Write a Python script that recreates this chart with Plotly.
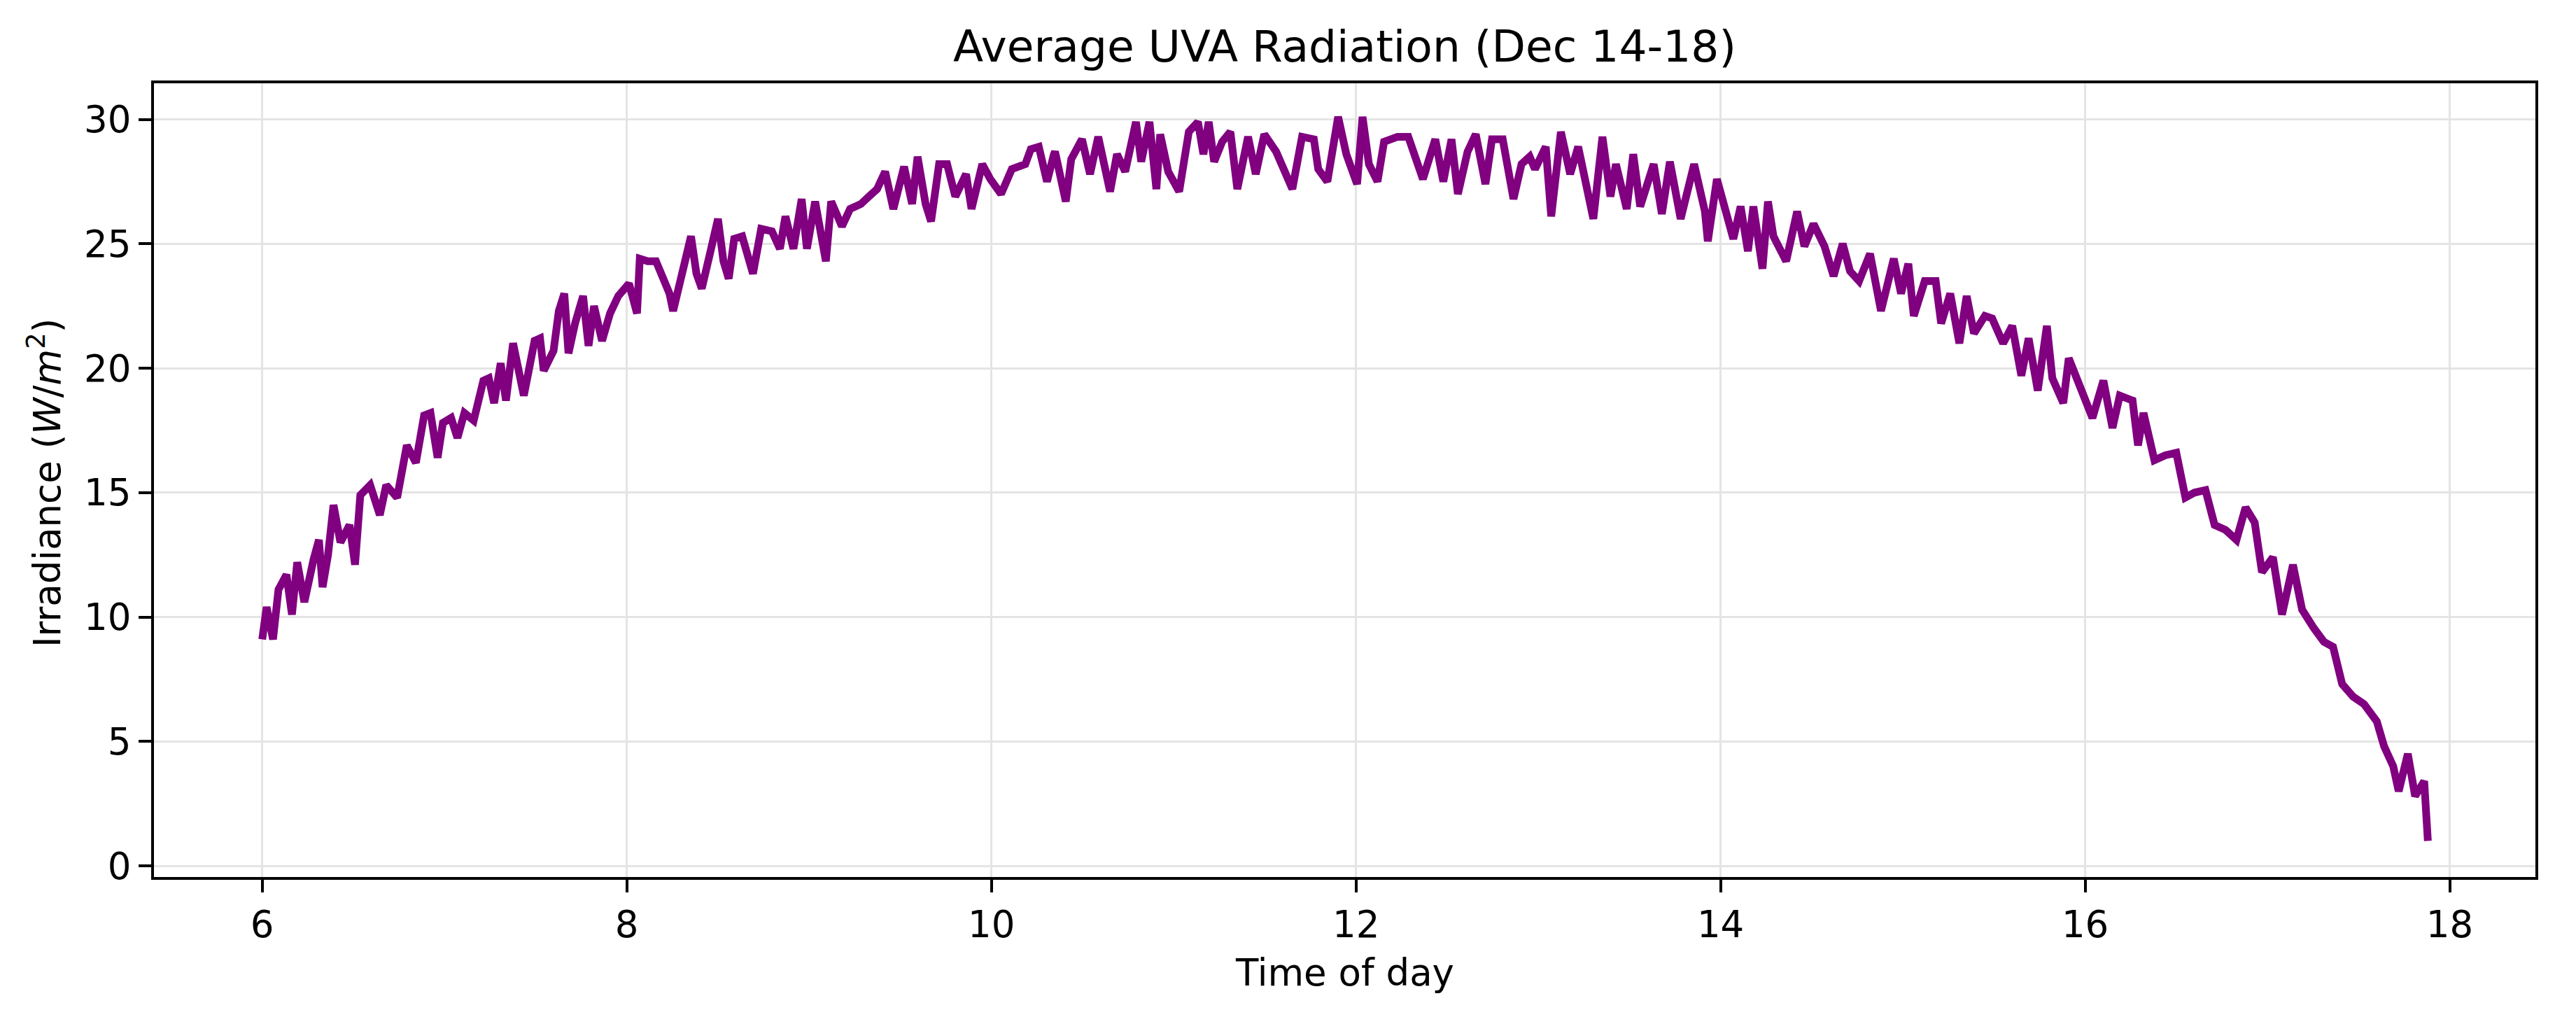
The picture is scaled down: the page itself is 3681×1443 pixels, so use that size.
import plotly.graph_objects as go

# ---- data (time of day in hours, irradiance W/m^2) ----
hours = [
    6.000, 6.024, 6.059, 6.089, 6.133, 6.163, 6.192, 6.231, 6.281, 6.311, 6.331, 6.361, 6.391, 6.429,
    6.479, 6.509, 6.538, 6.592, 6.645, 6.680, 6.740, 6.793, 6.843, 6.888, 6.923, 6.962, 6.991, 7.036,
    7.071, 7.109, 7.160, 7.213, 7.243, 7.272, 7.308, 7.337, 7.376, 7.435, 7.494, 7.524, 7.544, 7.598,
    7.627, 7.657, 7.680, 7.716, 7.760, 7.790, 7.820, 7.864, 7.908, 7.953, 8.012, 8.056, 8.071, 8.115,
    8.160, 8.204, 8.234, 8.254, 8.308, 8.352, 8.382, 8.411, 8.456, 8.500, 8.530, 8.559, 8.589, 8.633,
    8.692, 8.737, 8.796, 8.840, 8.870, 8.914, 8.959, 8.988, 9.033, 9.062, 9.092, 9.121, 9.180, 9.225,
    9.284, 9.328, 9.373, 9.417, 9.462, 9.521, 9.565, 9.595, 9.639, 9.669, 9.713, 9.757, 9.802, 9.861,
    9.891, 9.950, 9.994, 10.053, 10.112, 10.186, 10.216, 10.260, 10.305, 10.343,
    10.349, 10.408, 10.438, 10.497, 10.541, 10.586, 10.651, 10.689, 10.734, 10.793, 10.822, 10.867,
    10.905, 10.926, 10.970, 11.030, 11.083, 11.133, 11.163, 11.192, 11.222, 11.266, 11.311, 11.349,
    11.408, 11.450, 11.497, 11.562, 11.651, 11.704, 11.769, 11.793, 11.843, 11.902, 11.947, 12.006,
    12.036, 12.071, 12.118, 12.154, 12.228, 12.287, 12.331, 12.367, 12.435, 12.479, 12.524, 12.559,
    12.612, 12.657, 12.710, 12.746, 12.805, 12.864, 12.908, 12.953, 12.982, 13.041, 13.071, 13.124,
    13.175, 13.219, 13.302, 13.352, 13.396, 13.426, 13.485, 13.521, 13.559, 13.633, 13.678, 13.722,
    13.781, 13.855, 13.914,
    13.93, 13.98, 14.01, 14.04, 14.07, 14.11, 14.15, 14.18, 14.23, 14.26, 14.29, 14.36, 14.42, 14.46,
    14.51, 14.57, 14.62, 14.67, 14.71, 14.76, 14.82, 14.88, 14.95, 14.99, 15.03, 15.06, 15.12, 15.18,
    15.21, 15.26, 15.31, 15.35, 15.39, 15.45, 15.49, 15.55, 15.60, 15.65, 15.69, 15.74, 15.79, 15.82,
    15.88, 15.91, 15.98, 16.04, 16.10, 16.15, 16.19, 16.26, 16.29, 16.32, 16.38, 16.44, 16.50, 16.55,
    16.60, 16.66, 16.71, 16.77, 16.83, 16.88, 16.93, 16.97, 17.03, 17.08, 17.14, 17.19, 17.25, 17.31,
    17.36, 17.41, 17.47, 17.53, 17.60, 17.64, 17.69, 17.72, 17.77, 17.81, 17.86, 17.88,
]

irradiance = [
    9.1, 10.4, 9.1, 11.1, 11.7, 10.1, 12.2, 10.6, 12.3, 13.1, 11.2, 12.5, 14.5, 13.0,
    13.7, 12.1, 14.9, 15.3, 14.1, 15.3, 14.8, 16.9, 16.2, 18.1, 18.2, 16.4, 17.8, 18.0,
    17.2, 18.2, 17.9, 19.5, 19.6, 18.6, 20.2, 18.7, 21.0, 18.9, 21.1, 21.2, 19.9, 20.7,
    22.3, 23.0, 20.6, 21.8, 22.9, 20.9, 22.5, 21.1, 22.2, 22.9, 23.4, 22.2, 24.4, 24.3,
    24.3, 23.4, 23.0, 22.3, 24.1, 25.3, 23.8, 23.2, 24.6, 26.0, 24.3, 23.6, 25.2, 25.3,
    23.8, 25.6, 25.5, 24.8, 26.1, 24.8, 26.8, 24.8, 26.7, 25.3, 24.3, 26.7, 25.7, 26.4,
    26.6, 26.9, 27.2, 27.9, 26.4, 28.1, 26.6, 28.5, 26.6, 25.9, 28.2, 28.2, 26.9, 27.8,
    26.4, 28.2, 27.6, 27.0, 28.0, 28.2, 28.8, 28.9, 27.5, 28.6,
    28.7, 26.7, 28.4, 29.2, 27.8, 29.3, 27.1, 28.6, 27.9, 29.9, 28.3, 29.9,
    27.2, 29.4, 27.9, 27.1, 29.5, 29.9, 28.6, 29.9, 28.3, 29.1, 29.5, 27.2,
    29.3, 27.8, 29.4, 28.7, 27.2, 29.3, 29.2, 28.0, 27.5, 30.1, 28.6, 27.4,
    30.1, 28.2, 27.5, 29.1, 29.3, 29.3, 28.4, 27.6, 29.2, 27.5, 29.2, 27.0,
    28.7, 29.4, 27.4, 29.2, 29.2, 26.8, 28.2, 28.5, 28.0, 28.9, 26.1, 29.5,
    27.8, 28.9, 26.0, 29.3, 26.9, 28.2, 26.4, 28.6, 26.5, 28.2, 26.2, 28.3,
    26.0, 28.2, 26.3,
    25.1, 27.6, 26.8, 25.8, 25.2, 26.5, 24.7, 26.5, 24.0, 26.7, 25.3, 24.3, 26.3, 24.9,
    25.8, 24.9, 23.7, 25.0, 23.9, 23.5, 24.6, 22.3, 24.4, 23.0, 24.2, 22.1, 23.5, 23.5,
    21.8, 23.0, 21.0, 22.9, 21.4, 22.1, 22.0, 21.0, 21.7, 19.7, 21.2, 19.1, 21.7, 19.6,
    18.6, 20.4, 19.1, 18.0, 19.5, 17.6, 18.9, 18.7, 16.9, 18.2, 16.3, 16.5, 16.6, 14.8,
    15.0, 15.1, 13.7, 13.5, 13.1, 14.4, 13.8, 11.8, 12.4, 10.1, 12.1, 10.3, 9.6, 9.0,
    8.8, 7.3, 6.8, 6.5, 5.8, 4.8, 4.0, 3.0, 4.5, 2.8, 3.4, 1.0,
]

x_ticks = [6, 8, 10, 12, 14, 16, 18]
y_ticks = [0, 5, 10, 15, 20, 25, 30]

title_text = "Average UVA Radiation (Dec 14-18)"
x_label = "Time of day"
y_label = "Irradiance (<i>W</i>/<i>m</i><sup>2</sup>)"

FONT = "DejaVu Sans"

fig = go.Figure()
fig.add_trace(go.Scatter(
    x=hours, y=irradiance, mode="lines",
    line=dict(color="#800080", width=11),
    showlegend=False,
))

axis_common = dict(
    showline=True, linecolor="black", linewidth=4, mirror=True,
    ticks="outside", ticklen=18, tickwidth=4, tickcolor="black",
    showgrid=True, gridcolor="#e4e4e4", gridwidth=3,
    zeroline=False,
    tickfont=dict(family=FONT, size=53, color="black"),
)

fig.update_layout(
    width=3681, height=1443,
    margin=dict(l=220, r=58, t=119, b=190),
    paper_bgcolor="white", plot_bgcolor="white",
    title=dict(text=title_text, x=0.5, xref="paper", y=0.954, yref="container",
               xanchor="center", yanchor="middle",
               font=dict(family=FONT, size=63, color="black")),
    xaxis=dict(range=[5.406, 18.47], tickvals=x_ticks, **axis_common),
    yaxis=dict(range=[-0.45, 31.45], tickvals=y_ticks, **axis_common),
    annotations=[
        dict(text=x_label, xref="paper", yref="paper", x=0.5, y=-0.1208,
             xanchor="center", yanchor="middle", showarrow=False,
             font=dict(family=FONT, size=53, color="black")),
        dict(text=y_label, xref="paper", yref="paper", x=-0.0458, y=0.4965,
             xanchor="center", yanchor="middle", textangle=-90, showarrow=False,
             font=dict(family=FONT, size=53, color="black")),
    ],
)

fig.write_html("out.html")
